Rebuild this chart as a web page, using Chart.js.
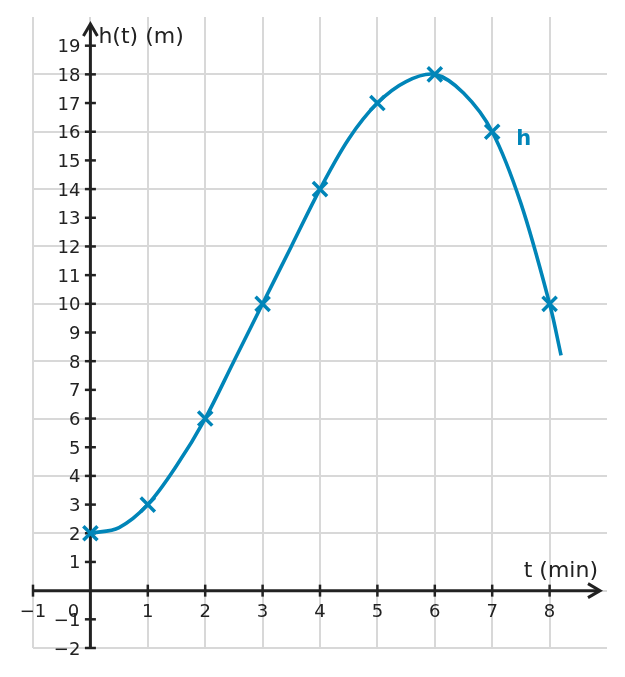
<!DOCTYPE html>
<html>
<head>
<meta charset="utf-8">
<script src="https://cdn.jsdelivr.net/npm/chart.js@4.4.1/dist/chart.umd.min.js"></script>
<style>
html,body{margin:0;padding:0;background:#fff;}
#wrap{width:625px;height:677px;position:relative;}
</style>
</head>
<body>
<div id="wrap"><canvas id="c"></canvas></div>
<script>
// ---- data ----
const markT = [0, 1, 2, 3, 4, 5, 6, 7, 8];
const markH = [2, 3, 6, 10, 14, 17, 18, 16, 10];
const curveT = [0, 0.5, 1, 1.5, 2, 2.5, 3, 3.5, 4, 4.5, 5, 5.5, 6, 6.5, 7, 7.5, 8, 8.2];
const curveH = [2, 2.2, 3, 4.35, 6, 8, 10, 12, 14, 15.75, 17, 17.75, 18, 17.35, 16, 13.5, 10, 8.2];
const xTickValues = [-1, 0, 1, 2, 3, 4, 5, 6, 7, 8];
const xTickLabels = ['\u22121', '0', '1', '2', '3', '4', '5', '6', '7', '8'];
const yTickValues = [-2, -1, 1, 2, 3, 4, 5, 6, 7, 8, 9, 10, 11, 12, 13, 14, 15, 16, 17, 18, 19];
const yTickLabels = ['\u22122', '\u22121', '1', '2', '3', '4', '5', '6', '7', '8', '9', '10', '11', '12', '13', '14', '15', '16', '17', '18', '19'];
const yGridValues = [-2, 0, 2, 4, 6, 8, 10, 12, 14, 16, 18];
const xTitle = 't (min)';
const yTitle = 'h(t) (m)';
const seriesName = 'h';
const seriesLabelAt = [7.55, 15.55];

// ---- styles ----
const BLUE = '#0085b8';
const AXIS = '#222222';
const GRID = '#d8d8d8';
const FONT = '"DejaVu Sans", sans-serif';

const axesPlugin = {
  id: 'mathAxes',
  beforeDatasetsDraw(chart) {
    const {ctx, chartArea} = chart;
    const xs = chart.scales.x, ys = chart.scales.y;
    const ax = xs.getPixelForValue(0);
    const ay = ys.getPixelForValue(0);
    ctx.save();
    ctx.strokeStyle = AXIS;
    ctx.fillStyle = AXIS;
    ctx.lineWidth = 3;
    ctx.lineCap = 'butt';
    const xStart = xs.getPixelForValue(xTickValues[0]);
    const xTip = chartArea.right - 7;
    ctx.beginPath();
    ctx.moveTo(xStart, ay); ctx.lineTo(xTip - 1, ay); ctx.stroke();
    const yStart = ys.getPixelForValue(yTickValues[0]);
    const yTip = chartArea.top + 7;
    ctx.beginPath();
    ctx.moveTo(ax, yStart); ctx.lineTo(ax, yTip + 1); ctx.stroke();
    ctx.lineJoin = 'miter';
    ctx.beginPath();
    ctx.moveTo(xTip - 12, ay - 7); ctx.lineTo(xTip, ay); ctx.lineTo(xTip - 12, ay + 7);
    ctx.stroke();
    ctx.beginPath();
    ctx.moveTo(ax - 7, yTip + 12); ctx.lineTo(ax, yTip); ctx.lineTo(ax + 7, yTip + 12);
    ctx.stroke();
    ctx.lineWidth = 2.5;
    xTickValues.forEach(v => {
      if (v === 0) return;
      const px = xs.getPixelForValue(v);
      ctx.beginPath(); ctx.moveTo(px, ay - 6); ctx.lineTo(px, ay + 6); ctx.stroke();
    });
    yTickValues.forEach(v => {
      const py = ys.getPixelForValue(v);
      ctx.beginPath(); ctx.moveTo(ax - 5.5, py); ctx.lineTo(ax + 5.5, py); ctx.stroke();
    });
    ctx.font = '18px ' + FONT;
    ctx.fillStyle = AXIS;
    ctx.textBaseline = 'alphabetic';
    ctx.textAlign = 'center';
    xTickValues.forEach((v, i) => {
      let px = xs.getPixelForValue(v);
      if (v === 0) px -= 17;
      ctx.fillText(xTickLabels[i], px, ay + 26);
    });
    ctx.textAlign = 'right';
    yTickValues.forEach((v, i) => {
      const py = ys.getPixelForValue(v);
      ctx.fillText(yTickLabels[i], ax - 10, py + 6.5);
    });
    ctx.font = '22px ' + FONT;
    ctx.textAlign = 'left';
    ctx.fillText(yTitle, ax + 8, chartArea.top + 26);
    ctx.textAlign = 'right';
    ctx.fillText(xTitle, chartArea.right - 9, ay - 14);
    ctx.restore();
  },
  afterDatasetsDraw(chart) {
    const {ctx} = chart;
    const xs = chart.scales.x, ys = chart.scales.y;
    ctx.save();
    ctx.font = 'bold 21px ' + FONT;
    ctx.fillStyle = BLUE;
    ctx.textAlign = 'center';
    ctx.textBaseline = 'alphabetic';
    ctx.fillText(seriesName, xs.getPixelForValue(seriesLabelAt[0]), ys.getPixelForValue(seriesLabelAt[1]));
    ctx.restore();
  }
};

new Chart(document.getElementById('c'), {
  type: 'scatter',
  data: {
    datasets: [
      {
        label: 'curve',
        data: curveT.map((t, i) => ({x: t, y: curveH[i]})),
        showLine: true,
        borderColor: BLUE,
        borderWidth: 3.6,
        pointRadius: 0,
        tension: 0.34,
        fill: false,
        order: 2
      },
      {
        label: seriesName,
        data: markT.map((t, i) => ({x: t, y: markH[i]})),
        showLine: false,
        pointStyle: 'crossRot',
        pointRadius: 10,
        borderColor: BLUE,
        backgroundColor: BLUE,
        pointBorderWidth: 3.5,
        order: 1
      }
    ]
  },
  options: {
    responsive: true,
    maintainAspectRatio: false,
    animation: false,
    events: [],
    layout: {padding: {left: 33, right: 18, top: 17, bottom: 29}},
    plugins: {legend: {display: false}, tooltip: {enabled: false}},
    scales: {
      x: {
        type: 'linear',
        position: 'bottom',
        min: -1, max: 9,
        afterBuildTicks: s => { s.ticks = xTickValues.map(v => ({value: v})); },
        ticks: {display: false},
        border: {display: false},
        grid: {color: GRID, lineWidth: 2, drawTicks: false}
      },
      y: {
        type: 'linear',
        position: 'left',
        min: -2, max: 20,
        afterBuildTicks: s => { s.ticks = yGridValues.map(v => ({value: v})); },
        ticks: {display: false},
        border: {display: false},
        grid: {color: GRID, lineWidth: 2, drawTicks: false}
      }
    }
  },
  plugins: [axesPlugin]
});
</script>
</body>
</html>
